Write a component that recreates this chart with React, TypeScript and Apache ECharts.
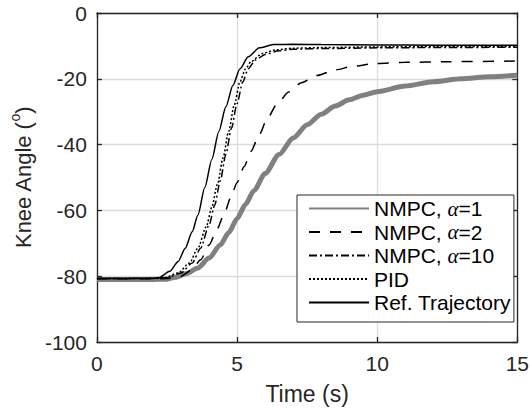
import React, { useEffect, useRef } from "react";
import * as echarts from "echarts";

// Reference trajectory
const tRef = [0, 1, 2, 2.2, 2.6, 2.9, 3.15, 3.4, 3.6, 3.85, 4.1, 4.35, 4.6, 4.85, 5.1, 5.4, 5.8, 6.3, 7, 8, 10, 12, 15];
const vRef = [-80.7, -80.7, -80.6, -80.5, -78.5, -75.5, -71.5, -66.5, -61.5, -53, -44.5, -36, -28.5, -22, -17, -13.3, -10.6, -9.6, -9.5, -9.6, -9.7, -9.8, -9.8];

// PID
const tPid = [0, 1, 2, 2.4, 2.9, 3.3, 3.6, 3.9, 4.1, 4.3, 4.5, 4.7, 4.9, 5.1, 5.3, 5.5, 5.9, 6.4, 7, 8, 10, 12, 15];
const vPid = [-80.7, -80.7, -80.7, -80.5, -79, -76, -71.5, -65, -59, -52, -44, -36, -28, -21, -17, -14.8, -12.3, -11.2, -10.7, -10.5, -10.3, -10.2, -10.2];

// NMPC alpha = 10
const tA10 = [0, 1, 2, 2.5, 3.0, 3.4, 3.7, 4.0, 4.2, 4.4, 4.6, 4.8, 5.0, 5.2, 5.4, 5.65, 6.0, 6.5, 7, 8, 10, 12, 15];
const vA10 = [-80.7, -80.7, -80.7, -80.5, -79, -76, -71.5, -64.5, -58.5, -51, -43, -35, -27.5, -21, -17, -14.3, -12.6, -11.5, -11, -10.8, -10.6, -10.5, -10.4];

// NMPC alpha = 2
const tA2 = [0, 1, 2, 2.5, 3.0, 3.4, 3.7, 4.0, 4.3, 4.54, 4.78, 5.0, 5.25, 5.5, 5.8, 6.07, 6.4, 6.84, 7.3, 7.84, 8.5, 9.14, 9.9, 11, 12.5, 15];
const vA2 = [-80.8, -80.8, -80.8, -80.7, -80, -78, -75, -70.5, -65.5, -61, -56, -51.5, -46.7, -42, -36.8, -32.3, -28, -24, -21.2, -19, -17.3, -16.2, -15.4, -15, -14.8, -14.6];

// NMPC alpha = 1
const tA1 = [0, 1, 2, 2.5, 2.8, 3.2, 3.6, 4.0, 4.4, 4.7, 5.0, 5.3, 5.6, 6.0, 6.5, 7.0, 7.5, 8.0, 8.5, 9.0, 9.5, 10, 11, 12, 13, 14, 15];
const vA1 = [-81, -81, -81, -80.9, -80.3, -79.2, -77.5, -74.5, -70.5, -66.8, -62.5, -58.2, -54, -48.8, -43, -38, -34, -30.8, -28.3, -26.4, -25, -23.9, -22.2, -20.9, -20, -19.4, -18.9];

const xTicks = { min: 0, max: 15, interval: 5 };
const yTicks = { min: -100, max: 0, interval: 20 };

const names = ["NMPC, α=1", "NMPC, α=2", "NMPC, α=10", "PID", "Ref. Trajectory"];

const zip = (t: number[], v: number[]) => t.map((x, i) => [x, v[i]]);

const FONT = "Liberation Sans, Arial, Helvetica, sans-serif";
const AX = "#262626";

export default function App() {
  const ref = useRef<HTMLDivElement>(null);
  useEffect(() => {
    if (!ref.current) return;
    const chart = echarts.init(ref.current, null, { renderer: "svg" });
    const axisCommon = {
      type: "value" as const,
      axisLine: { show: true, onZero: false, lineStyle: { color: AX, width: 1.3 } },
      axisTick: { show: true, inside: true, length: 5, lineStyle: { color: AX, width: 1.3 } },
    };
    const lineSeries = (name: string, data: number[][], color: string, width: number, type: any, z: number) => ({
      name,
      type: "line",
      data,
      symbol: "none",
      showSymbol: false,
      smooth: 0.25,
      smoothMonotone: "x",
      z,
      lineStyle: { color, width, type },
      itemStyle: { color },
    });
    chart.setOption({
      animation: false,
      backgroundColor: "#ffffff",
      textStyle: { fontFamily: FONT },
      grid: { left: 95, top: 13, right: 13, bottom: 68, show: false },
      legend: {
        orient: "vertical",
        left: 297,
        top: 195,
        data: names,
        itemWidth: 60,
        itemHeight: 12,
        itemGap: 2.5,
        padding: [3, 3, 9, 11],
        borderColor: AX,
        borderWidth: 1,
        backgroundColor: "#ffffff",
        itemStyle: { opacity: 0 },
        formatter: (n: string) => n.replace("α", "{a|α}"),
        textStyle: {
          fontFamily: FONT,
          fontSize: 21,
          lineHeight: 21,
          color: "#000",
          rich: {
            a: { fontFamily: "Liberation Serif, DejaVu Serif, serif", fontStyle: "italic", fontSize: 21, color: "#000" },
          },
        },
      },
      xAxis: [
        {
          ...axisCommon,
          ...xTicks,
          position: "bottom",
          name: "Time (s)",
          nameLocation: "middle",
          nameGap: 40,
          nameTextStyle: { fontFamily: FONT, fontSize: 23, color: AX },
          axisLabel: { fontFamily: FONT, fontSize: 21, color: AX, margin: 11 },
          splitLine: { show: true, lineStyle: { color: "#dcdcdc", width: 1.3 } },
        },
        {
          ...axisCommon,
          ...xTicks,
          position: "top",
          axisLabel: { show: false },
          splitLine: { show: false },
        },
      ],
      yAxis: [
        {
          ...axisCommon,
          ...yTicks,
          position: "left",
          name: "{m|Knee Angle (}{s|o}{m|)}",
          nameLocation: "middle",
          nameGap: 58,
          nameRotate: 90,
          nameTextStyle: {
            fontFamily: FONT,
            fontSize: 22,
            color: AX,
            rich: {
              m: { fontFamily: FONT, fontSize: 22, lineHeight: 26, color: AX, verticalAlign: "bottom" },
              s: { fontFamily: FONT, fontSize: 14, lineHeight: 14, color: AX, verticalAlign: "top" },
            },
          },
          axisLabel: { fontFamily: FONT, fontSize: 21, color: AX, margin: 10 },
          splitLine: { show: true, lineStyle: { color: "#dcdcdc", width: 1.3 } },
        },
        {
          ...axisCommon,
          ...yTicks,
          position: "right",
          axisLabel: { show: false },
          splitLine: { show: false },
        },
      ],
      series: [
        lineSeries(names[0], zip(tA1, vA1), "#808080", 5, "solid", 2),
        lineSeries(names[1], zip(tA2, vA2), "#000000", 1.5, [11, 10], 3),
        lineSeries(names[2], zip(tA10, vA10), "#000000", 1.5, [8, 3, 2, 3], 4),
        lineSeries(names[3], zip(tPid, vPid), "#000000", 1.5, [2, 2], 5),
        lineSeries(names[4], zip(tRef, vRef), "#000000", 1.5, "solid", 6),
      ],
    });
    return () => chart.dispose();
  }, []);
  return <div ref={ref} style={{ width: 532, height: 410, position: "absolute", left: 0, top: 0 }} />;
}
